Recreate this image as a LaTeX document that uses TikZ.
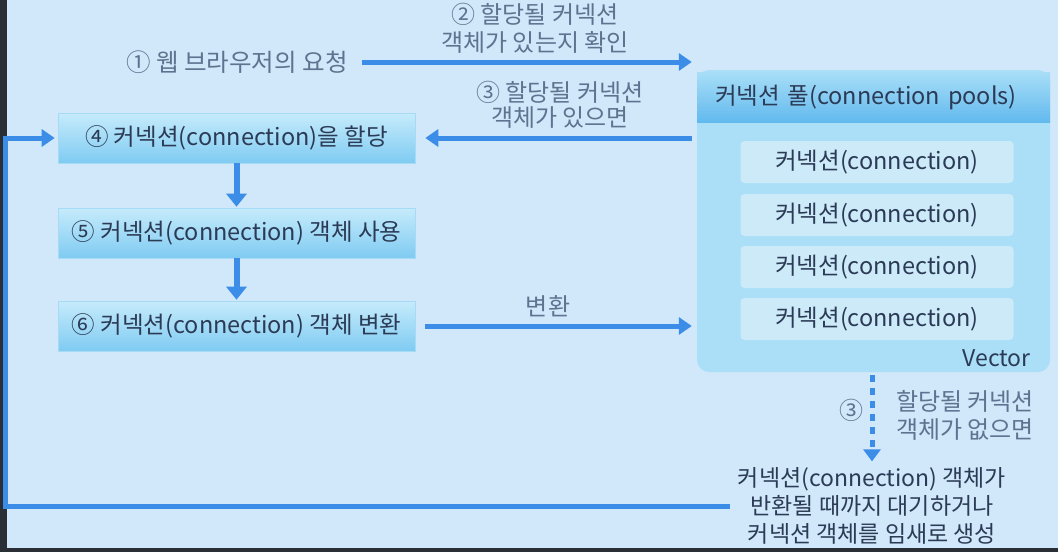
\documentclass[tikz,border=0pt]{standalone}
\usepackage{fontspec}
\setmainfont{Noto Sans CJK KR}
\usetikzlibrary{positioning,arrows.meta,calc}
\definecolor{slidebg}{HTML}{D0E8F9}
\definecolor{screen}{HTML}{2A2F36}
\definecolor{flowblue}{HTML}{3B8DE8}
\definecolor{steptop}{HTML}{C6EBFB}
\definecolor{stepbot}{HTML}{7FCBF2}
\definecolor{stepedge}{HTML}{A6DAF5}
\definecolor{pooltint}{HTML}{AADFF7}
\definecolor{headtop}{HTML}{A8DEF7}
\definecolor{headbot}{HTML}{62B9EE}
\definecolor{conntint}{HTML}{CDEAF9}
\definecolor{inktext}{HTML}{2B3A55}
\definecolor{greytext}{HTML}{5E7390}

\begin{document}
\begin{tikzpicture}[
  x=1pt, y=-1pt,
  % one step of the request flow
  stepbox/.style={draw=stepedge, line width=0.6pt, top color=steptop,
                  bottom color=stepbot, minimum width=357pt,
                  minimum height=50pt, inner sep=0, text=inktext,
                  font=\fontsize{23.5}{26}\selectfont},
  conn/.style={fill=conntint, rounded corners=4pt, minimum width=273pt,
               minimum height=42pt, inner sep=0, text=inktext,
               font=\fontsize{23.5}{26}\selectfont},
  lbl/.style={text=greytext, align=center, inner sep=0,
              font=\fontsize{24}{28}\selectfont},
  flow/.style={draw=flowblue, line width=5pt,
               -{Triangle[width=17pt,length=13pt]}},
  down/.style={draw=flowblue, line width=6pt,
               -{Triangle[width=20pt,length=13pt]}}
]
\useasboundingbox (0,0) rectangle (1058,552);

% ══ slide ══════════════════════════════════════════════════════════════════
\fill[slidebg] (0,0) rectangle (1058,552);
\fill[screen] (0,0) rectangle (7,552);
\fill[screen] (0,548) rectangle (1058,552);

% ══ pool of connections ════════════════════════════════════════════════════
\node[fill=pooltint, rounded corners=12pt, minimum width=353pt,
      minimum height=302pt, inner sep=0] (pool) at (873.5,221) {};
\node[top color=headtop, bottom color=headbot, minimum width=353pt,
      minimum height=50pt, text width=317pt, align=left, inner sep=0,
      text=inktext, font=\fontsize{23.5}{26}\selectfont] (head) at (873.5,97)
  {커넥션 풀(connection pools)};
\foreach \cy [count=\i] in {162,215,267,319}{
  \node[conn] (c\i) at (877,\cy) {커넥션(connection)};
}
\node[anchor=east, inner sep=0, text=inktext,
      font=\fontsize{23}{26}\selectfont] (vec) at (1031,358) {Vector};

% ══ steps ══════════════════════════════════════════════════════════════════
\node[text=greytext, inner sep=0, font=\fontsize{24.5}{28}\selectfont]
  (req) at (237,62) {① 웹 브라우저의 요청};
\node[stepbox] (b4) at (236.5,138) {④ 커넥션(connection)을 할당};
\node[stepbox] (b5) at (236.5,233) {⑤ 커넥션(connection) 객체 사용};
\node[stepbox] (b6) at (236.5,326) {⑥ 커넥션(connection) 객체 변환};

% ══ when the pool is empty ═════════════════════════════════════════════════
\node[text=inktext, align=center, inner sep=0,
      font=\fontsize{23}{28}\selectfont] (wait) at (872,506)
  {커넥션(connection) 객체가\\반환될 때까지 대기하거나\\커넥션 객체를 임새로 생성};

% ══ labels ═════════════════════════════════════════════════════════════════
\node[lbl] (ask) at (535,28) {② 할당될 커넥션\\객체가 있는지 확인};
\node[lbl, font=\fontsize{24}{25}\selectfont] (hit) at (560,105)
  {③ 할당될 커넥션\\객체가 있으면};
\node[lbl] (ret) at (548,306) {변환};
\node[lbl] (miss3) at (851,410) {③};
\node[lbl, align=left, anchor=west] (miss) at (896,415)
  {할당될 커넥션\\객체가 없으면};

% ══ connectors ═════════════════════════════════════════════════════════════
\draw[flow] ([xshift=14pt]req.east) -- ([xshift=-5pt]pool.west |- req.east);
\draw[flow] ([xshift=-5pt]pool.west |- b4.east) -- ([xshift=10pt]b4.east);
\draw[down] (b4.south) -- ([yshift=1pt]b5.north);
\draw[down] (b5.south) -- ([yshift=1pt]b6.north);
\draw[flow] ([xshift=10pt]b6.east) -- ([xshift=-5pt]pool.west |- b6.east);
\draw[flow, dash pattern=on 7pt off 6pt,
      -{Triangle[width=17pt,length=12pt]}]
  ([yshift=-3pt]wait.north |- pool.south) -- ([yshift=6pt]wait.north);
\coordinate (rail) at (13,0);
\draw[flow] ([xshift=-8pt]wait.west) -- ([xshift=-8pt]wait.west -| rail)
  |- ([xshift=-3pt]b4.west);

\end{tikzpicture}
\end{document}
